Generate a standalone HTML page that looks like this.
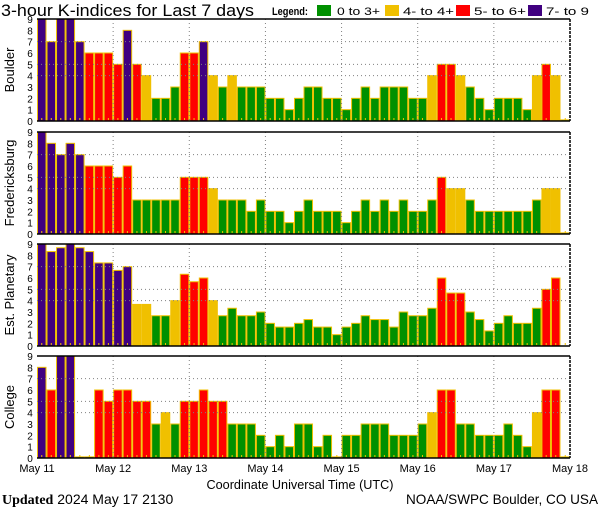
<!DOCTYPE html>
<html><head><meta charset="utf-8"><style>
html,body{margin:0;padding:0;background:#fff;}
svg{display:block;font-family:"Liberation Sans",sans-serif;}
</style></head><body>
<svg id="chart" width="600" height="510" xmlns="http://www.w3.org/2000/svg">
<text x="1" y="16" font-size="17" textLength="253" lengthAdjust="spacingAndGlyphs">3-hour K-indices for Last 7 days</text>
<g font-size="11">
<text x="272" y="15" font-weight="bold" textLength="36" lengthAdjust="spacingAndGlyphs">Legend:</text>
<rect x="317" y="5" width="14" height="11" fill="#009000"/>
<text x="337" y="15" textLength="43" lengthAdjust="spacingAndGlyphs">0 to 3+</text>
<rect x="385" y="5" width="14" height="11" fill="#f0c000"/>
<text x="403" y="15" textLength="51" lengthAdjust="spacingAndGlyphs">4- to 4+</text>
<rect x="456" y="5" width="14" height="11" fill="#ff0000"/>
<text x="474" y="15" textLength="52" lengthAdjust="spacingAndGlyphs">5- to 6+</text>
<rect x="528" y="5" width="14" height="11" fill="#400080"/>
<text x="546" y="15" textLength="43" lengthAdjust="spacingAndGlyphs">7- to 9</text>
</g>
<text x="300" y="489" font-size="13" text-anchor="middle" textLength="187" lengthAdjust="spacingAndGlyphs">Coordinate Universal Time (UTC)</text>
<text x="2" y="504" font-size="14"><tspan font-family="Liberation Serif,serif" font-weight="bold">Updated</tspan> 2024 May 17 2130</text>
<text x="598" y="504" font-size="14" text-anchor="end" textLength="192" lengthAdjust="spacingAndGlyphs">NOAA/SWPC Boulder, CO USA</text>
</svg>
<script>
const stations = ["Boulder","Fredericksburg","Est. Planetary","College"];
const boulder = [9,7,9,9,7,6,6,6,5,8,5,4,2,2,3,6,6,7,4,3,4,3,3,3,2,2,1,2,3,3,2,2,1,2,3,2,3,3,3,2,2,4,5,5,4,3,2,1,2,2,2,1,4,5,4,0.1];
const fredericksburg = [9,8,7,8,7,6,6,6,5,6,3,3,3,3,3,5,5,5,4,3,3,3,2,3,2,2,1,2,3,2,2,2,1,2,3,2,3,2,3,2,2,3,5,4,4,3,2,2,2,2,2,2,3,4,4,0.1];
const planetary = [9,8.33,8.67,9,8.67,8.33,7.33,7.33,6.67,7,3.67,3.67,2.67,2.67,4,6.33,5.67,6,4,2.67,3.33,2.67,2.67,3,2,1.67,1.67,2,2.33,1.67,1.67,1,1.67,2,2.67,2.33,2.33,1.67,3,2.67,2.67,3.33,6,4.67,4.67,3,2.33,1.33,2,2.67,2,2,3.33,5,6,0];
const college = [8,6,9,9,0.1,0.1,6,5,6,6,5,5,3,4,3,5,5,6,5,5,3,3,3,2,1,2,1,3,3,1,2,0.1,2,2,3,3,3,2,2,2,3,4,6,6,3,3,2,2,2,3,2,1,4,6,6,0.1];
const series = [boulder,fredericksburg,planetary,college];
const dayLabels = ["May 11","May 12","May 13","May 14","May 15","May 16","May 17","May 18"];
const yTicks = [0,1,2,3,4,5,6,7,8,9];
const gridLevels = [4,5,7];

const NS="http://www.w3.org/2000/svg";
const svg=document.getElementById('chart');
const X0=37, X1=570, NB=56, bw=(X1-X0)/NB;
const panelTops=[19,132,244,356], PH=102;
function mk(t,a,p){const e=document.createElementNS(NS,t);for(const k in a)e.setAttribute(k,a[k]);(p||svg).appendChild(e);return e;}
function xScale(i){return X0+i*bw;}
function dayX(d){return X0+d*(X1-X0)/7;}
function color(v){return v<3.5?"#009000":v<4.5?"#f0c000":v<6.5?"#ff0000":"#400080";}

stations.forEach((name,p)=>{
  const top=panelTops[p], bot=top+PH;
  const yScale=v=>bot-v*PH/9;
  const g=mk('g',{});
  
  
  const data=series[p];
  data.forEach((v,i)=>{
    if(v<=0)return;
    const r=mk('rect',{x:xScale(i)+0.5,y:yScale(v),width:bw-1,height:bot-yScale(v),fill:color(v),stroke:"#f0c000","stroke-width":1},g);
    
    
  });
  data.forEach((v,i)=>{
    const t=mk('rect',{x:xScale(i)+bw/2-0.5,y:bot-3,width:1,height:2,fill:"#f0c000"},g);
    
    
  });
  gridLevels.forEach(l=>{
    const ln=mk('line',{x1:X0,x2:X1,y1:yScale(l),y2:yScale(l),stroke:"#808080","stroke-dasharray":"1,3"},g);
    
    
  });
  for(let d=1;d<7;d++){
    const ln=mk('line',{x1:dayX(d),x2:dayX(d),y1:top,y2:bot,stroke:"#808080","stroke-dasharray":"1,3"},g);
    
    
  }
  const tl=mk('line',{x1:X0,x2:X1,y1:top,y2:top,stroke:"#000","stroke-width":1.5},g);
  
  
  const bl=mk('line',{x1:X0,x2:X1,y1:bot,y2:bot,stroke:"#000","stroke-width":1.5},g);
  
  
  const rl=mk('line',{x1:X1,x2:X1,y1:top,y2:bot,stroke:"#000","stroke-width":1.5,"stroke-dasharray":"3,1"},g);
  
  
  yTicks.forEach(t=>{
    const tx=mk('text',{x:30,y:yScale(t)+4,"font-size":10,"text-anchor":"middle"},g);
    tx.textContent=t;
    
    
  });
  const cy=top+PH/2;
  const yl=mk('text',{x:0,y:0,"font-size":13,"text-anchor":"middle",transform:`translate(14,${cy}) rotate(-90)`},g);
  yl.textContent=name;
  
  
});
dayLabels.forEach((d,i)=>{
  const t=mk('text',{x:dayX(i),y:472,"font-size":11,"text-anchor":"middle"});
  t.textContent=d;
  
  
});
</script>
</body></html>
